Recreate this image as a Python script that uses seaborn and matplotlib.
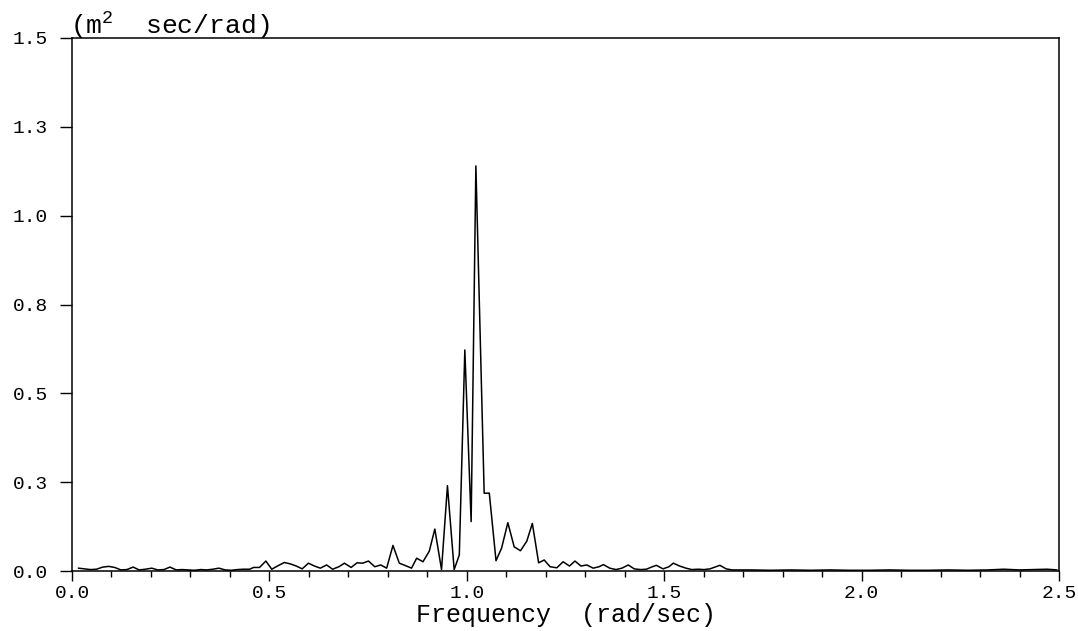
import matplotlib
matplotlib.use("Agg")
import matplotlib.pyplot as plt
import seaborn as sns
import pandas as pd

# Frequency (rad/sec) vertices of the spectrum curve
freq = [0.016, 0.031, 0.047, 0.062, 0.078, 0.093, 0.108, 0.124, 0.139, 0.155,
        0.170, 0.186, 0.202, 0.217, 0.233, 0.248, 0.264, 0.279, 0.295, 0.310,
        0.326, 0.341, 0.357, 0.372, 0.388, 0.403, 0.419, 0.434, 0.450, 0.460,
        0.475, 0.491, 0.506, 0.522, 0.538, 0.553, 0.568, 0.583, 0.599, 0.614,
        0.629, 0.645, 0.660, 0.676, 0.690, 0.707, 0.722, 0.736, 0.751, 0.767,
        0.782, 0.797, 0.813, 0.829, 0.845, 0.860, 0.873, 0.889, 0.905, 0.919,
        0.936, 0.951, 0.968, 0.981, 0.995, 1.011, 1.023, 1.044, 1.057, 1.074,
        1.088, 1.104, 1.120, 1.136, 1.152, 1.166, 1.182, 1.196, 1.211, 1.228,
        1.244, 1.260, 1.274, 1.289, 1.304, 1.320, 1.335, 1.346, 1.362, 1.378,
        1.393, 1.409, 1.424, 1.440, 1.455, 1.470, 1.480, 1.497, 1.512, 1.523,
        1.539, 1.555, 1.570, 1.586, 1.601, 1.616, 1.631, 1.641, 1.657, 1.672,
        1.720, 1.770, 1.820, 1.870, 1.920, 1.970, 2.020, 2.070, 2.120, 2.170,
        2.220, 2.270, 2.320, 2.360, 2.400, 2.440, 2.470, 2.495]

# Spectral density (m^2 sec/rad)
psd = [0.008, 0.006, 0.004, 0.005, 0.011, 0.013, 0.010, 0.003, 0.004, 0.011,
       0.003, 0.005, 0.008, 0.003, 0.004, 0.011, 0.003, 0.004, 0.003, 0.002,
       0.004, 0.003, 0.005, 0.008, 0.003, 0.002, 0.004, 0.005, 0.005, 0.010,
       0.010, 0.028, 0.005, 0.015, 0.024, 0.020, 0.014, 0.006, 0.022, 0.014,
       0.008, 0.017, 0.005, 0.012, 0.022, 0.010, 0.023, 0.022, 0.028, 0.012,
       0.017, 0.008, 0.072, 0.022, 0.015, 0.008, 0.036, 0.026, 0.056, 0.118,
       0.004, 0.240, 0.004, 0.045, 0.622, 0.139, 1.140, 0.219, 0.219, 0.029,
       0.064, 0.136, 0.068, 0.057, 0.084, 0.134, 0.023, 0.031, 0.012, 0.009,
       0.026, 0.014, 0.028, 0.014, 0.017, 0.008, 0.012, 0.018, 0.008, 0.004,
       0.008, 0.017, 0.006, 0.004, 0.005, 0.012, 0.016, 0.006, 0.012, 0.022,
       0.014, 0.008, 0.004, 0.005, 0.004, 0.006, 0.012, 0.016, 0.006, 0.003,
       0.003, 0.002, 0.003, 0.002, 0.003, 0.002, 0.002, 0.003, 0.002, 0.002,
       0.003, 0.002, 0.003, 0.005, 0.003, 0.004, 0.005, 0.003]

x_major = [0.0, 0.5, 1.0, 1.5, 2.0, 2.5]
x_major_labels = ["0.0", "0.5", "1.0", "1.5", "2.0", "2.5"]
y_ticks = [0.0, 0.25, 0.5, 0.75, 1.0, 1.25, 1.5]
y_tick_labels = ["0.0", "0.3", "0.5", "0.8", "1.0", "1.3", "1.5"]
x_label = "Frequency  (rad/sec)"
y_unit = "(m$^2$  sec/rad)"

sns.set_theme(style="white")
plt.rcParams["font.family"] = ["Liberation Mono", "DejaVu Sans"]
plt.rcParams["mathtext.fontset"] = "custom"
plt.rcParams["mathtext.rm"] = "Liberation Mono"
plt.rcParams["mathtext.it"] = "Liberation Mono"

df = pd.DataFrame({"freq": freq, "psd": psd})

fig = plt.figure(figsize=(10.78, 6.31), dpi=100)
ax = fig.add_axes([72 / 1078, 1 - 571 / 631, (1059 - 72) / 1078, (571 - 38) / 631])

sns.lineplot(data=df, x="freq", y="psd", ax=ax, color="black", linewidth=1.1,
             estimator=None, sort=False)

ax.set_xlim(0, 2.5)
ax.set_ylim(0, 1.5)

ax.set_xticks(x_major)
ax.set_xticklabels(x_major_labels)
ax.set_xticks([i / 10 for i in range(26) if i % 5 != 0], minor=True)
ax.set_yticks(y_ticks)
ax.set_yticklabels(y_tick_labels)

ax.tick_params(axis="x", which="major", direction="out", length=7, width=1.0,
               color="black", labelsize=14, pad=3, bottom=True, top=False)
ax.tick_params(axis="x", which="minor", direction="out", length=4.5, width=1.0,
               color="black", bottom=True, top=False)
ax.tick_params(axis="y", which="major", direction="out", length=8.5, width=1.0,
               color="black", labelsize=14, pad=9, left=True, right=False)

for side in ["left", "right", "top", "bottom"]:
    ax.spines[side].set_visible(True)
    ax.spines[side].set_color("black")
    ax.spines[side].set_linewidth(1.1)

ax.set_xlabel(x_label, fontsize=18, labelpad=1, color="black")
ax.set_ylabel("")
ax.text(-0.002, 1.008, y_unit, transform=ax.transAxes, ha="left", va="baseline",
        fontsize=19, color="black")

for lbl in ax.get_xticklabels() + ax.get_yticklabels():
    lbl.set_color("black")

fig.savefig("out.png", dpi=100, facecolor="white")
